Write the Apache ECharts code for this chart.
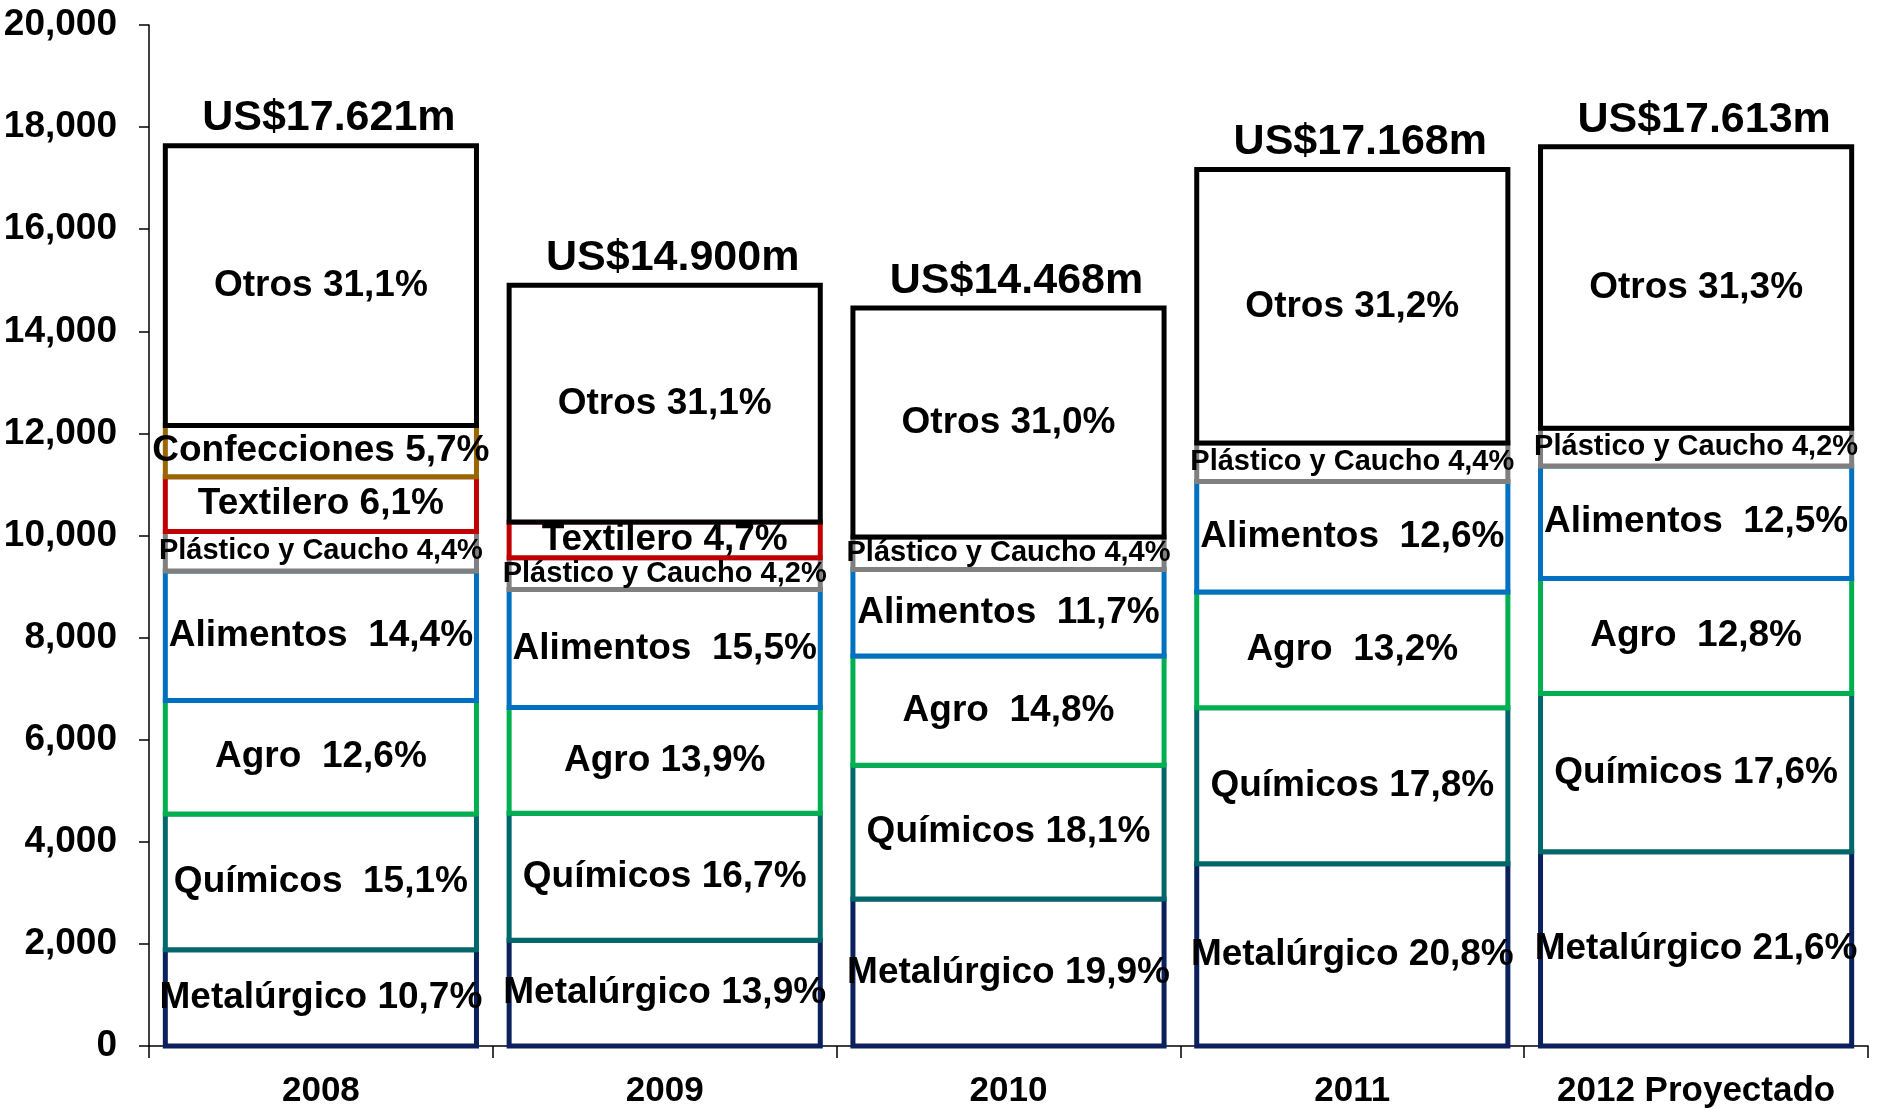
<!DOCTYPE html>
<html>
<head>
    <meta charset="utf-8">
    <title>ECharts</title>
    <script src="https://cdn.jsdelivr.net/npm/echarts@6/dist/echarts.min.js"></script>
    <style>
        html, body { margin: 0; padding: 0; background: #fff; }
    </style>
</head>
<body>
    <div id="main" style="width: 1884px;height:1110px;"></div>
    <script type="text/javascript">
        // categorias y datos (US$ millones)
        var years = ['2008', '2009', '2010', '2011', '2012 Proyectado'];
        var totals = ['US$17.621m', 'US$14.900m', 'US$14.468m', 'US$17.168m', 'US$17.613m'];

        var metalurgico = [1885, 2071, 2879, 3571, 3804];
        var quimicos = [2661, 2488, 2619, 3056, 3100];
        var agro = [2220, 2071, 2141, 2266, 2254];
        var alimentos = [2537, 2310, 1693, 2163, 2202];
        var plastico = [775, 626, 637, 755, 740];
        var textilero = [1075, 700, 0, 0, 0];
        var confecciones = [1004, 0, 0, 0, 0];
        var otros = [5480, 4634, 4485, 5356, 5513];

        var metalurgicoTxt = ['Metalúrgico 10,7%', 'Metalúrgico 13,9%', 'Metalúrgico 19,9%', 'Metalúrgico 20,8%', 'Metalúrgico 21,6%'];
        var quimicosTxt = ['Químicos  15,1%', 'Químicos 16,7%', 'Químicos 18,1%', 'Químicos 17,8%', 'Químicos 17,6%'];
        var agroTxt = ['Agro  12,6%', 'Agro 13,9%', 'Agro  14,8%', 'Agro  13,2%', 'Agro  12,8%'];
        var alimentosTxt = ['Alimentos  14,4%', 'Alimentos  15,5%', 'Alimentos  11,7%', 'Alimentos  12,6%', 'Alimentos  12,5%'];
        var plasticoTxt = ['Plástico y Caucho 4,4%', 'Plástico y Caucho 4,2%', 'Plástico y Caucho 4,4%', 'Plástico y Caucho 4,4%', 'Plástico y Caucho 4,2%'];
        var textileroTxt = ['Textilero 6,1%', 'Textilero 4,7%', '', '', ''];
        var confeccionesTxt = ['Confecciones 5,7%', '', '', '', ''];
        var otrosTxt = ['Otros 31,1%', 'Otros 31,1%', 'Otros 31,0%', 'Otros 31,2%', 'Otros 31,3%'];

        var FONT = 'Liberation Sans, Arial, sans-serif';
        var BAR_RATIO = 0.905;

        // acumulado para apilar a mano (las barras llevan borde centrado como en el original)
        var acumulado = years.map(function () { return 0; });

        function segment(name, values, texts, color, size) {
            var data = [];
            values.forEach(function (v, i) {
                if (v > 0) data.push([i, acumulado[i], v, texts[i]]);
                acumulado[i] += v;
            });
            return {
                name: name,
                type: 'custom',
                data: data,
                encode: { x: 0, y: [1, 2] },
                renderItem: function (params, api) {
                    var i = api.value(0), base = api.value(1), v = api.value(2);
                    var p0 = api.coord([i, base]);
                    var p1 = api.coord([i, base + v]);
                    var w = api.size([1, 0])[0] * BAR_RATIO;
                    return {
                        type: 'rect',
                        shape: { x: p0[0] - w / 2, y: p1[1], width: w, height: p0[1] - p1[1] },
                        style: { fill: '#fff', stroke: color, lineWidth: 5 },
                        textContent: {
                            style: {
                                text: data[params.dataIndex][3],
                                fill: '#000',
                                fontFamily: FONT,
                                fontWeight: 'bold',
                                fontSize: size
                            }
                        },
                        textConfig: { position: 'inside' }
                    };
                },
                emphasis: { disabled: true },
                silent: true
            };
        }

        var series = [
            segment('Metalúrgico', metalurgico, metalurgicoTxt, '#0a215e', 37),
            segment('Químicos', quimicos, quimicosTxt, '#00686a', 37),
            segment('Agro', agro, agroTxt, '#00b050', 37),
            segment('Alimentos', alimentos, alimentosTxt, '#0070c0', 37),
            segment('Plástico y Caucho', plastico, plasticoTxt, '#808080', 29),
            segment('Textilero', textilero, textileroTxt, '#c00000', 37),
            segment('Confecciones', confecciones, confeccionesTxt, '#996600', 37),
            segment('Otros', otros, otrosTxt, '#000000', 37)
        ];

        // totales encima de cada barra
        series.push({
            name: 'Total',
            type: 'custom',
            data: acumulado.map(function (t, i) { return [i, t]; }),
            encode: { x: 0, y: 1 },
            renderItem: function (params, api) {
                var p = api.coord([api.value(0), api.value(1)]);
                return {
                    type: 'text',
                    x: p[0] + 8,
                    y: p[1] - 27,
                    style: {
                        text: totals[params.dataIndex],
                        fill: '#000',
                        fontFamily: FONT,
                        fontWeight: 'bold',
                        fontSize: 43,
                        align: 'center',
                        verticalAlign: 'middle'
                    }
                };
            },
            silent: true
        });

        var myChart = echarts.init(document.getElementById('main'));

        var option = {
            animation: false,
            backgroundColor: '#fff',
            grid: { left: 149, right: 16, top: 25, bottom: 64, containLabel: false },
            xAxis: {
                type: 'category',
                data: years,
                axisLine: { lineStyle: { color: '#000', width: 1.5 } },
                axisTick: { show: true, interval: 0, length: 12, lineStyle: { color: '#000', width: 1.5 } },
                axisLabel: { interval: 0, color: '#000', fontFamily: FONT, fontWeight: 'bold', fontSize: 35, margin: 28 }
            },
            yAxis: {
                type: 'value',
                min: 0,
                max: 20000,
                interval: 2000,
                splitLine: { show: false },
                axisLine: { show: true, lineStyle: { color: '#000', width: 1.5 } },
                axisTick: { show: true, length: 10, lineStyle: { color: '#000', width: 1.5 } },
                axisLabel: {
                    color: '#000', fontFamily: FONT, fontWeight: 'bold', fontSize: 37, margin: 32,
                    formatter: function (v) { return v.toLocaleString('en-US'); }
                }
            },
            series: series
        };

        myChart.setOption(option);
    </script>
</body>
</html>
